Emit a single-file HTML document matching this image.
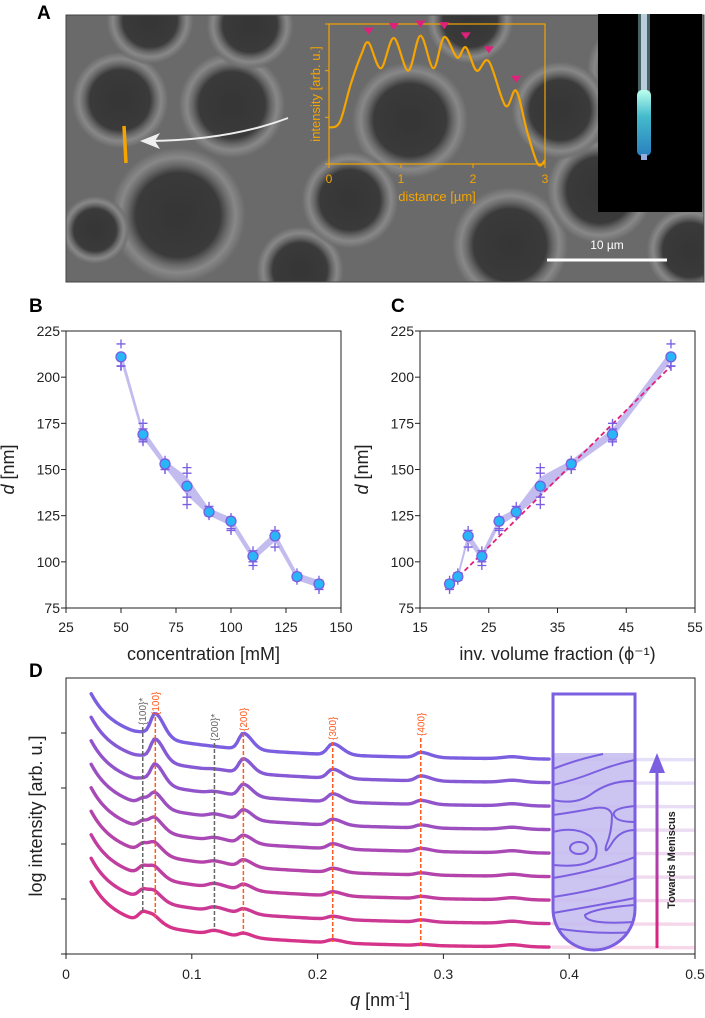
<!DOCTYPE html>
<html><head><meta charset="utf-8">
<style>
html,body{margin:0;padding:0;background:#fff;}
body{width:705px;height:1013px;overflow:hidden;font-family:"Liberation Sans",Arial,sans-serif;}
svg text{font-family:"Liberation Sans",Arial,sans-serif;}
</style></head>
<body>
<svg id="fig" width="705" height="1013" viewBox="0 0 705 1013" xmlns="http://www.w3.org/2000/svg">
<defs>
  <radialGradient id="hole" cx="50%" cy="50%" r="50%">
    <stop offset="0%" stop-color="#353535"/><stop offset="60%" stop-color="#3a3a3a"/>
    <stop offset="72%" stop-color="#6a6a6a"/><stop offset="82%" stop-color="#888"/>
    <stop offset="92%" stop-color="#747474"/><stop offset="100%" stop-color="#666" stop-opacity="0"/>
  </radialGradient>
  <linearGradient id="tubeGlow" x1="0" y1="0" x2="0" y2="1">
    <stop offset="0%" stop-color="#bfe"/><stop offset="40%" stop-color="#4bc"/>
    <stop offset="100%" stop-color="#2a7fbf"/>
  </linearGradient>
  <linearGradient id="arrowGrad" x1="0" y1="1" x2="0" y2="0">
    <stop offset="0%" stop-color="#e0207a"/><stop offset="100%" stop-color="#7b5fe0"/>
  </linearGradient>
  <clipPath id="semClip"><rect x="66" y="15" width="638" height="267"/></clipPath>
  <clipPath id="tubeClip"><path d="M553,694 H635 V909 A41,41 0 0 1 553,909 Z"/></clipPath>
</defs>

<text x="37" y="19" font-size="19" font-weight="bold">A</text>
<g clip-path="url(#semClip)">
  <rect x="66" y="15" width="638" height="267" fill="#6a6a6a"/>
  <g id="holes"></g>
</g>
<rect x="66" y="15" width="638" height="267" fill="none" stroke="#444" stroke-width="1"/>
<line x1="124" y1="126" x2="126" y2="163" stroke="#f5a400" stroke-width="3.5"/>
<path d="M288,118 Q230,140 150,141" fill="none" stroke="#eee" stroke-width="2"/>
<polygon points="140,141 160,133 155,141 160,149" fill="#eee"/>
<g id="inset">
  <rect x="329" y="24" width="216" height="140" fill="none" stroke="#f5a400" stroke-width="1.2"/>
  <text transform="translate(320,94) rotate(-90)" font-size="13" fill="#f5a400" text-anchor="middle">intensity [arb. u.]</text>
  <text x="437" y="201" font-size="13" fill="#f5a400" text-anchor="middle">distance [µm]</text>
</g>
<g>
  <rect x="598" y="14" width="104" height="198" fill="#000"/>
  <rect x="638" y="14" width="12" height="80" fill="#5a7a80" opacity="0.8"/>
  <rect x="641" y="14" width="6" height="80" fill="#bcd"/>
  <rect x="637" y="90" width="14" height="66" rx="5" fill="url(#tubeGlow)"/>
  <rect x="641" y="154" width="6" height="6" fill="#9ad"/>
</g>
<line x1="547" y1="260" x2="667" y2="260" stroke="#fff" stroke-width="3"/>
<text x="607" y="249" font-size="12" fill="#fff" text-anchor="middle">10 µm</text>

<text x="29" y="312" font-size="19" font-weight="bold">B</text>
<text x="391" y="312" font-size="19" font-weight="bold">C</text>
<g id="panelB"></g>
<g id="panelC"></g>

<text x="29" y="677" font-size="19" font-weight="bold">D</text>
<g id="panelD"></g>
</svg>
<script>
const NS='http://www.w3.org/2000/svg';
function mk(tag,attrs,parent,text){const e=document.createElementNS(NS,tag);for(const k in attrs)e.setAttribute(k,attrs[k]);if(text!==undefined)e.textContent=text;parent.appendChild(e);return e;}

const holeCx=[120,232,178,300,410,510,640,95,690,250,470,600,350,150,560];
const holeCy=[100,105,215,270,120,245,70,230,250,25,20,190,200,20,110];
const holeR=[50,55,70,45,60,60,55,35,45,45,45,55,50,45,50];
const hg=document.getElementById('holes');
for(let i=0;i<holeCx.length;i++){const c=mk('circle',{cx:holeCx[i],cy:holeCy[i],r:holeR[i],fill:'url(#hole)'},hg);

}

const insetDist=[0,0.15,0.3,0.45,0.55,0.72,0.9,1.1,1.27,1.45,1.6,1.78,1.9,2.05,2.22,2.45,2.6,2.75,2.9,3.0];
const insetVal=[0.78,0.9,1.7,2.35,2.6,2.05,2.7,2.0,2.75,2.05,2.72,2.28,2.5,2.0,2.2,1.25,1.57,0.7,0.0,0.08];
const peakDist=[0.55,0.9,1.27,1.6,1.9,2.22,2.6];
const peakVal=[2.6,2.7,2.75,2.72,2.5,2.2,1.57];
const ix=d=>329+d/3*216, iy=v=>164-v/3*140;
const inset=document.getElementById('inset');
[0,1,2,3].forEach(t=>{mk('line',{x1:ix(t),y1:164,x2:ix(t),y2:168,stroke:'#f5a400'},inset);
 const tl=mk('text',{x:ix(t),y:183,'font-size':12,fill:'#f5a400','text-anchor':'middle'},inset,String(t));
 
 
 mk('line',{x1:325,y1:iy(t),x2:329,y2:iy(t),stroke:'#f5a400'},inset);});
function smoothPath(xs,ys){let d='M'+xs[0]+','+ys[0];for(let i=0;i<xs.length-1;i++){const x0=xs[i-1]!==undefined?xs[i-1]:xs[i],y0=ys[i-1]!==undefined?ys[i-1]:ys[i];const x3=xs[i+2]!==undefined?xs[i+2]:xs[i+1],y3=ys[i+2]!==undefined?ys[i+2]:ys[i+1];
 const c1x=xs[i]+(xs[i+1]-x0)/6,c1y=ys[i]+(ys[i+1]-y0)/6,c2x=xs[i+1]-(x3-xs[i])/6,c2y=ys[i+1]-(y3-ys[i])/6;d+=` C${c1x},${c1y} ${c2x},${c2y} ${xs[i+1]},${ys[i+1]}`;}return d;}
const ip=mk('path',{d:smoothPath(insetDist.map(ix),insetVal.map(iy)),fill:'none',stroke:'#f5a400','stroke-width':2.2},inset);


peakDist.forEach((d,i)=>{const x=ix(d),y=iy(peakVal[i])-8;const t=mk('polygon',{points:`${x-5},${y-7} ${x+5},${y-7} ${x},${y}`,fill:'#e0207a'},inset);
 
 });

const conc=[50,60,70,80,90,100,110,120,130,140];
const invPhi=[51.5,43,37,32.5,29,26.5,24,22,20.5,19.3];
const dMean=[211,169,153,141,127,122,103,114,92,88];
const rep1=[218,175,155,151,130,124,106,117,94,90];
const rep2=[206,172,152,148,126,122,104,114,92,88];
const rep3=[206,166,150,135,126,118,100,114,91,86];
const rep4=[206,165,150,131,125,117,98,108,90,85];
const fitX=[19,51.5];
const fitY=[86,206];
const yTicks=[75,100,125,150,175,200,225];
function panel(gid,left,xmin,xmax,xticks,xs,title,fit){
 const g=document.getElementById(gid);const W=275,T=331,B=608;
 const sx=v=>left+(v-xmin)/(xmax-xmin)*W, sy=v=>B-(v-75)/150*(B-T);
 mk('rect',{x:left,y:T,width:W,height:B-T,fill:'none',stroke:'#222','stroke-width':1},g);
 yTicks.forEach(t=>{mk('line',{x1:left-5,y1:sy(t),x2:left,y2:sy(t),stroke:'#222'},g);
  const l=mk('text',{x:left-6,y:sy(t)+5,'font-size':14,'text-anchor':'end',fill:'#222'},g,String(t));
  
  });
 xticks.forEach(t=>{mk('line',{x1:sx(t),y1:B,x2:sx(t),y2:B+5,stroke:'#222'},g);
  const l=mk('text',{x:sx(t),y:B+24,'font-size':14,'text-anchor':'middle',fill:'#222'},g,String(t));
  
  });
 const yt=mk('text',{transform:`translate(${left-52},${sy(150)}) rotate(-90)`,'font-size':18,'text-anchor':'middle',fill:'#222'},g);
 
 
 mk('tspan',{'font-style':'italic'},yt,'d');mk('tspan',{},yt,' [nm]');
 const xt=mk('text',{x:left+W/2,y:B+52,'font-size':18,'text-anchor':'middle',fill:'#222'},g,title);
 
 
 const idx=xs.map((v,i)=>i).sort((a,b)=>xs[a]-xs[b]);
 let up=idx.map(i=>sx(xs[i])+','+sy(Math.max(dMean[i]+2,(rep1[i]+dMean[i])/2))), dn=idx.slice().reverse().map(i=>sx(xs[i])+','+sy(Math.min(dMean[i]-2,(rep4[i]+dMean[i])/2)));
 const band=mk('polygon',{points:up.concat(dn).join(' '),fill:'#b9b0ec',opacity:0.85},g);
 
 
 if(fit){const fl=mk('line',{x1:sx(fitX[0]),y1:sy(fitY[0]),x2:sx(fitX[1]),y2:sy(fitY[1]),stroke:'#e0207a','stroke-width':1.8,'stroke-dasharray':'5,3'},g);
  
  }
 xs.forEach((v,i)=>{const x=sx(v);
  [rep1[i],rep2[i],rep3[i],rep4[i]].forEach(dv=>{const c=mk('path',{d:`M${x-4.5},${sy(dv)} h9 M${x},${sy(dv)-4.5} v9`,stroke:'#7a5ee0','stroke-width':1.3},g);
   
   });
  const p=mk('circle',{cx:x,cy:sy(dMean[i]),r:5,fill:'#29b6f6',stroke:'#7a5ee0','stroke-width':1.3},g);
  
  });
}
panel('panelB',66,25,150,[25,50,75,100,125,150],conc,'concentration [mM]',false);
panel('panelC',420,15,55,[15,25,35,45,55],invPhi,'inv. volume fraction (\u03d5\u207b\u00b9)',true);

const curveOffset=[0,1,2,3,4,5,6,7,8];
const peak100=[23,21,19,12,10,8,7,6,4];
const peak100s=[2,2,3,7,8,9,10,10,11];
const peak200=[16,14,12,10,8,7,6,5,4];
const peak200s=[0,1,2,3,3,3,4,4,4];
const peak300=[11,9,8,6,5,4,4,3,3];
const peak400=[5,5,4,3,3,2,2,2,1];
const qTicks=[0,0.1,0.2,0.3,0.4,0.5];
const D=document.getElementById('panelD');
const dL=66,dR=695,dT=678,dB=954;
const qx=q=>dL+q/0.5*(dR-dL);
mk('rect',{x:dL,y:dT,width:dR-dL,height:dB-dT,fill:'none',stroke:'#222'},D);
qTicks.forEach(t=>{mk('line',{x1:qx(t),y1:dB,x2:qx(t),y2:dB+5,stroke:'#222'},D);
 const l=mk('text',{x:qx(t),y:dB+25,'font-size':14,'text-anchor':'middle',fill:'#222'},D,String(t));
 
 });
[733,788,844,899,954].forEach(y=>mk('line',{x1:dL-5,y1:y,x2:dL,y2:y,stroke:'#222'},D));
const dyt=mk('text',{transform:'translate(42,816) rotate(-90)','font-size':18,'text-anchor':'middle',fill:'#222'},D,'log intensity [arb. u.]');


const dxt=mk('text',{x:380,y:1006,'font-size':18,'text-anchor':'middle',fill:'#222'},D);


mk('tspan',{'font-style':'italic'},dxt,'q');mk('tspan',{},dxt,' [nm');mk('tspan',{'font-size':11,dy:-7},dxt,'-1');mk('tspan',{dy:7},dxt,']');
function g_(q,c,s){return Math.exp(-((q-c)*(q-c))/(2*s*s));}
function pk(q,c,s){return q<c?g_(q,c,s*0.8):g_(q,c,s*1.5);}
function lerpC(a,b,t){const pa=[parseInt(a.slice(1,3),16),parseInt(a.slice(3,5),16),parseInt(a.slice(5,7),16)],pb=[parseInt(b.slice(1,3),16),parseInt(b.slice(3,5),16),parseInt(b.slice(5,7),16)];return 'rgb('+pa.map((v,i)=>Math.round(v+(pb[i]-v)*t)).join(',')+')';}
curveOffset.forEach((k,i)=>{
 const off=k*23.5;const col=lerpC('#7b5fe0','#d6338a',k/8);
 let pts=[];
 for(let q=0.02;q<=0.5001;q+=0.002){
  let y=760+off-18*Math.exp(-(q-0.09)/0.1);
  y-=30*Math.exp(-(q-0.02)/0.015);
  y-=peak100[i]*pk(q,0.071,0.0045)+peak100s[i]*pk(q,0.062,0.005);
  y-=peak200s[i]*pk(q,0.118,0.006)+peak200[i]*pk(q,0.141,0.0045);
  y-=peak300[i]*pk(q,0.212,0.005)+peak400[i]*pk(q,0.282,0.005)+2*g_(q,0.355,0.008);
  pts.push([qx(q),y]);
 }
 const solid=pts.filter(p=>p[0]<=qx(0.385)),fade=pts.filter(p=>p[0]>=qx(0.385));
 const c1=mk('polyline',{points:solid.map(p=>p.join(',')).join(' '),fill:'none',stroke:col,'stroke-width':3.4,'stroke-linejoin':'round','stroke-linecap':'round'},D);
 
 
 const c2=mk('polyline',{points:fade.map(p=>p.join(',')).join(' '),fill:'none',stroke:col,'stroke-width':3.4,opacity:0.2},D);
 
 
});
const guideQ=[0.061,0.118,0.071,0.141,0.212,0.282];
const guideC=['#666','#666','#ff5a1f','#ff5a1f','#ff5a1f','#ff5a1f'];
const guideLbl=['{100}*','{200}*','{100}','{200}','{300}','{400}'];
const guideTop=[727,743,717,733,742,738];
const guideBot=[913,930,917,932,942,948];
guideQ.forEach((q,i)=>{const x=qx(q);
 const gl=mk('line',{x1:x,y1:guideTop[i],x2:x,y2:guideBot[i],stroke:guideC[i],'stroke-width':1.5,'stroke-dasharray':'4,2'},D);
 
 
 const t=mk('text',{transform:`translate(${x+3.5},${guideTop[i]-2}) rotate(-90)`,'font-size':10,fill:guideC[i]},D,guideLbl[i]);
 
 });
const tube=mk('g',{},D);


mk('path',{d:'M553,753 H635 V909 A41,41 0 0 1 553,909 Z',fill:'#c6bef0',opacity:0.9},tube);
const inner=mk('g',{'clip-path':'url(#tubeClip)',fill:'none',stroke:'#7b5fe0','stroke-width':2},tube);
['M553,769 Q575,760 603,754',
 'M553,785 Q575,780 595,772 Q615,764 635,760',
 'M553,800 Q575,805 590,795 Q610,780 635,781',
 'M553,815 Q575,812 595,808 Q610,806 612,815 Q612,832 606,846 Q604,856 612,843 Q620,830 635,830',
 'M635,806 Q612,808 614,815 Q616,822 635,822',
 'M553,832 Q575,826 590,836 Q600,845 595,858 Q585,868 553,865',
 'M553,878 Q600,870 635,857',
 'M553,897 Q600,890 635,878',
 'M553,913 Q600,905 635,898',
 'M635,905 Q595,908 585,915 Q585,925 635,922',
 'M553,928 Q600,935 635,932'].forEach(d=>mk('path',{d:d},inner));
mk('ellipse',{cx:579,cy:848,rx:9,ry:6,fill:'none',stroke:'#7b5fe0','stroke-width':2},tube);
mk('path',{d:'M553,694 H635 V909 A41,41 0 0 1 553,909 Z',fill:'none',stroke:'#7b5fe0','stroke-width':3},tube);
const arr=mk('g',{},D);


mk('rect',{x:655.5,y:768,width:3,height:180,fill:'url(#arrowGrad)'},arr);
mk('polygon',{points:'649,773 665,773 657,753',fill:'#7b5fe0'},arr);
const mt=mk('text',{transform:'translate(675,860) rotate(-90)','font-size':11,'font-weight':'bold','text-anchor':'middle',fill:'#222'},D,'Towards Meniscus');


</script>
</body></html>
